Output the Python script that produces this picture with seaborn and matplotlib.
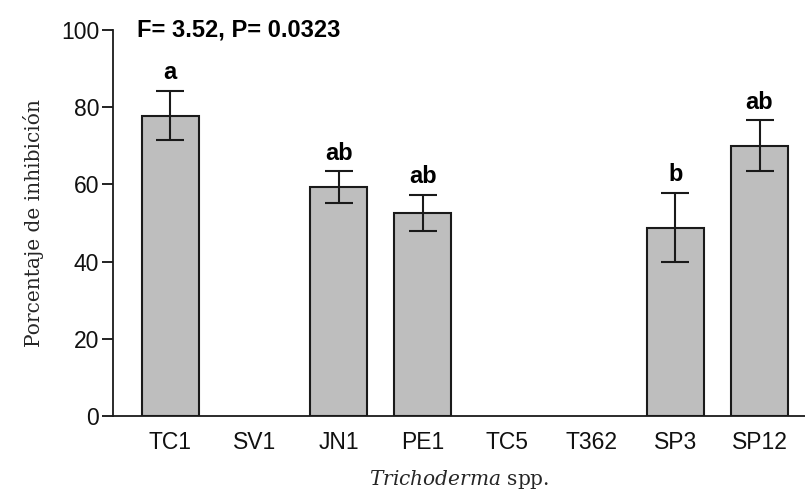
import pandas as pd
import seaborn as sns
import matplotlib.pyplot as plt

# 1. Data
strains = ['TC1', 'SV1', 'JN1', 'PE1', 'TC5', 'T362', 'SP3', 'SP12']
measured = ['TC1', 'JN1', 'PE1', 'SP3', 'SP12']
inhibition = [77.8, 59.3, 52.6, 48.8, 70.0]
std_err = [6.4, 4.1, 4.7, 9.0, 6.6]
letters = ['a', 'ab', 'ab', 'b', 'ab']
yticks = [0, 20, 40, 60, 80, 100]
stats_text = "F= 3.52, P= 0.0323"

df = pd.DataFrame({'cepa': measured, 'inhib': inhibition, 'ee': std_err, 'letra': letters})

# 2. Style
sns.set_style('ticks')
plt.rcParams['font.family'] = ['Liberation Sans', 'DejaVu Sans']
plt.rcParams['mathtext.fontset'] = 'custom'
plt.rcParams['mathtext.rm'] = 'DejaVu Serif'
plt.rcParams['mathtext.it'] = 'DejaVu Serif:italic'

fig = plt.figure(figsize=(8.05, 4.9), dpi=100)
ax = fig.add_axes([113 / 805, 1 - 416 / 490, 1 - 113 / 805, (416 - 30) / 490])

# 3. Bars
sns.barplot(data=df, x='cepa', y='inhib', order=strains, width=0.68,
            color='#bebebe', saturation=1, edgecolor='#1a1a1a', linewidth=1.5,
            errorbar=None, ax=ax)

pos = [strains.index(c) for c in df['cepa']]
ax.errorbar(pos, df['inhib'], yerr=df['ee'], fmt='none', ecolor='#1a1a1a',
            elinewidth=1.5, capsize=10, capthick=1.5)

for x, m, e, l in zip(pos, df['inhib'], df['ee'], df['letra']):
    ax.text(x, m + e + 3.0, l, ha='center', va='baseline',
            fontsize=17, fontweight='bold', color='black')

# 4. Axes
ax.set_ylim(0, 100)
ax.set_xlim(-0.68, 7.54)
ax.set_yticks(yticks)
ax.tick_params(axis='y', length=8, width=1.3, labelsize=16.5, pad=2, colors='#111111')
ax.tick_params(axis='x', length=0, labelsize=16.5, pad=11, colors='#111111')
ax.set_ylabel('Porcentaje de inhibición', family='DejaVu Serif', fontsize=14.5, labelpad=12)
ax.set_xlabel(r'$\mathit{Trichoderma}$ spp.', family='DejaVu Serif', fontsize=14.5, labelpad=10)
for s in ['left', 'bottom']:
    ax.spines[s].set_linewidth(1.3)
    ax.spines[s].set_color('#1a1a1a')
sns.despine(ax=ax)

fig.text(137 / 805, 1 - 30 / 490, stats_text, ha='left', va='center',
         fontsize=17, fontweight='bold', color='black')

# 5. Save
fig.savefig('out.png', dpi=100)
plt.close(fig)
